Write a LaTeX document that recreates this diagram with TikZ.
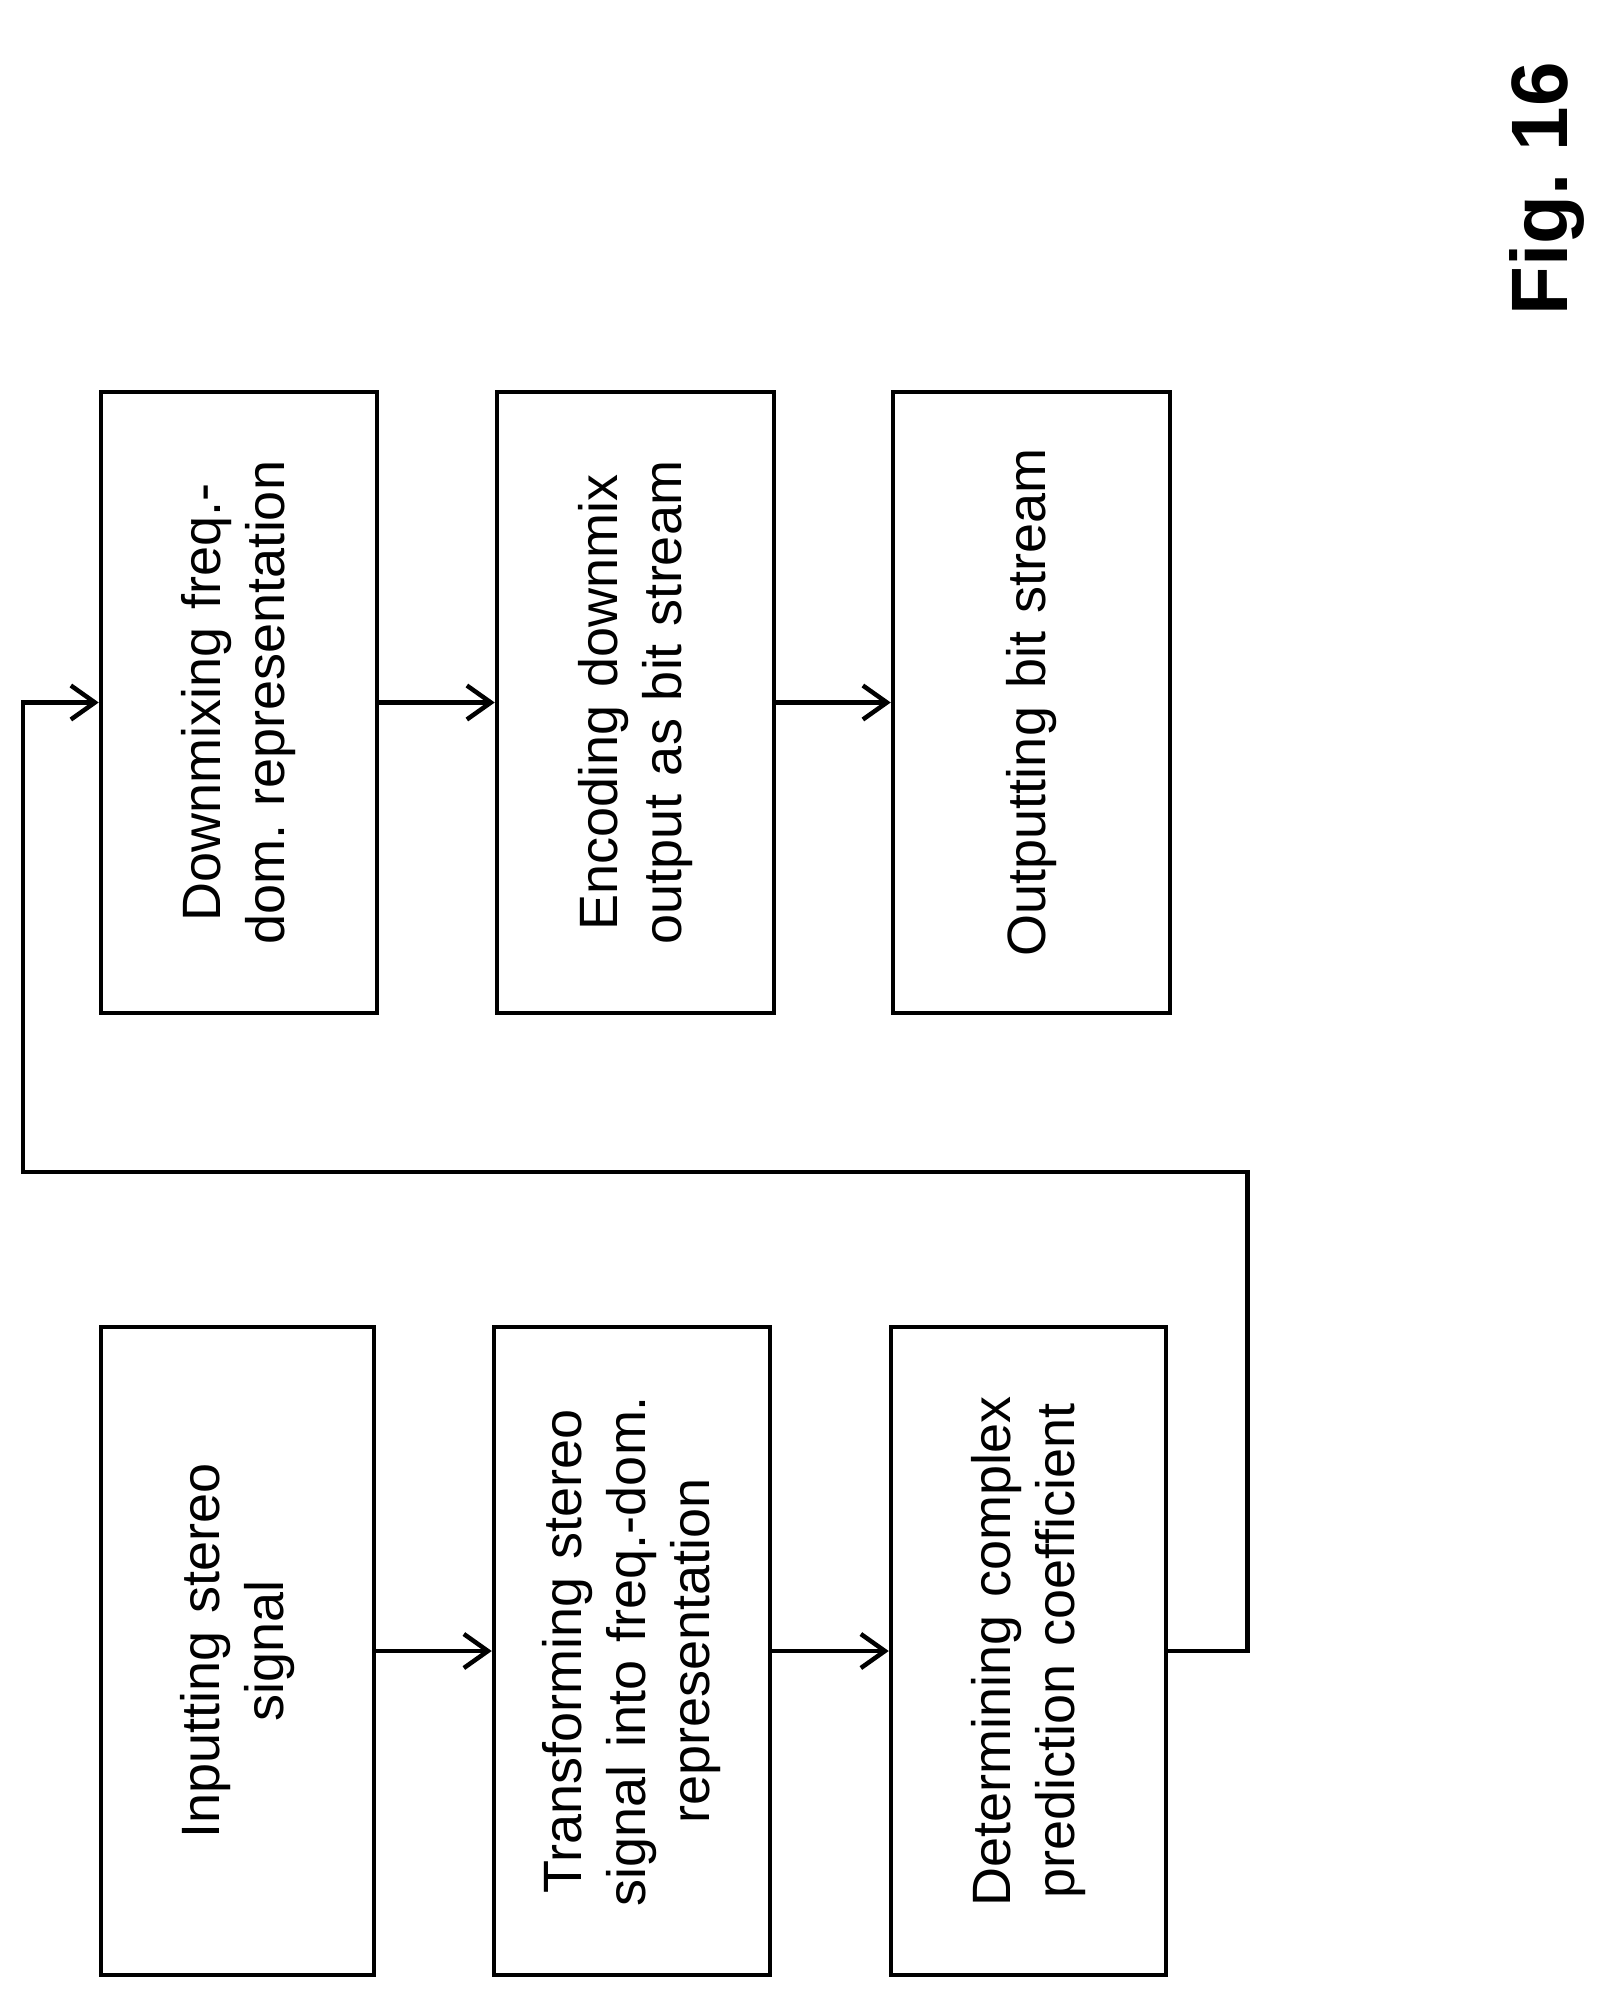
\documentclass[tikz,border=0pt]{standalone}
\usepackage{fontspec}
\setmainfont{Liberation Sans}
\frenchspacing
\usetikzlibrary{arrows.meta}
\tikzset{
  stepbox/.style={draw, line width=4.5pt, rotate=90, align=center, inner sep=6pt,
    font=\fontsize{54}{64}\selectfont},
  flow/.style={line width=4.5pt, -{Straight Barb[length=24pt, width=34pt, line width=4.5pt]}}
}
\begin{document}
\begin{tikzpicture}[x=1pt, y=1pt]
		\useasboundingbox (0,0) rectangle (1610,-1993);
		% left column
		\node[stepbox, minimum width=648, minimum height=273, text width=620] (inp) at (237.5,-1651) {Inputting stereo\\signal};
		\node[stepbox, minimum width=648, minimum height=276, text width=630] (trf) at (632,-1651) {Transforming stereo\\signal into freq.-dom.\\representation};
		\node[stepbox, minimum width=648, minimum height=275, text width=630] (det) at (1028.5,-1651) {Determining complex\\prediction coefficient};
		
		% right column
		\node[stepbox, minimum width=621, minimum height=276, text width=600] (dmx) at (239,-702.5) {Downmixing freq.-\\dom. representation};
		\node[stepbox, minimum width=621, minimum height=277, text width=600] (enc) at (635.5,-702.5) {Encoding downmix\\output as bit stream};
		\node[stepbox, minimum width=621, minimum height=277, text width=600] (out) at (1031.5,-702.5) {Outputting bit stream};
		
		% arrows
		\draw[flow] (inp.south) -- (trf.north);
		\draw[flow] (trf.south) -- (det.north);
		\draw[flow] (dmx.south) -- (enc.north);
		\draw[flow] (enc.south) -- (out.north);
		\coordinate (fb) at (23,-1172);
		\draw[flow] (det.south) -- ++(79,0) |- (fb) |- (dmx.north);
		
		% label
		\node[rotate=90, font=\fontsize{80}{90}\selectfont\bfseries] (fig) at (1547,-189) {Fig. 16};
	\end{tikzpicture}
\end{document}
